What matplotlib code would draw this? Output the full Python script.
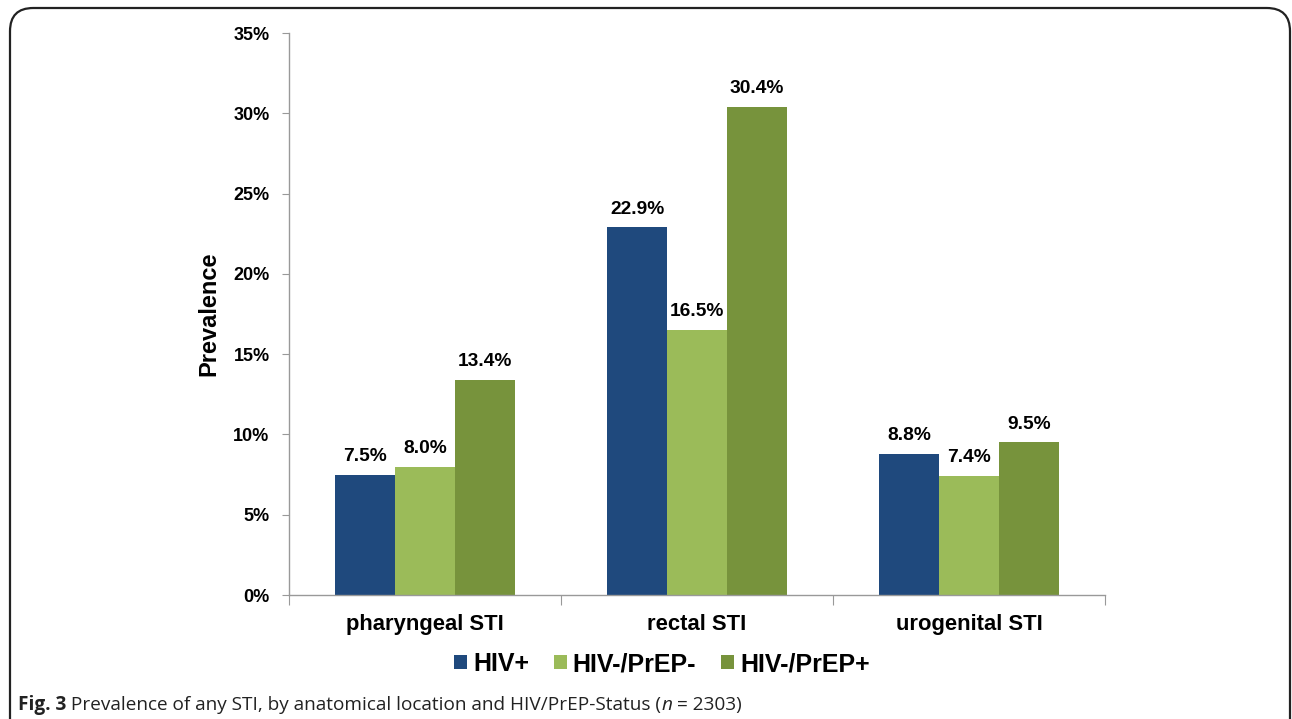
import matplotlib
matplotlib.use("Agg")
import matplotlib.pyplot as plt
from matplotlib.patches import FancyBboxPatch
import numpy as np

categories = ["pharyngeal STI", "rectal STI", "urogenital STI"]
groups = ["HIV+", "HIV-/PrEP-", "HIV-/PrEP+"]
hiv_pos = [7.5, 22.9, 8.8]
prep_neg = [8.0, 16.5, 7.4]
prep_pos = [13.4, 30.4, 9.5]
y_ticks = [0, 5, 10, 15, 20, 25, 30, 35]

colors = ["#1F497D", "#9BBB59", "#77933C"]

plt.rcParams["font.family"] = ["Liberation Sans", "DejaVu Sans"]

W, H = 1292, 719
fig = plt.figure(figsize=(W / 100, H / 100), dpi=100)

# rounded frame round the whole figure
frame = FancyBboxPatch((10 / W, -30 / H), (1290 - 10) / W, (H - 8 + 30) / H,
                       boxstyle="round,pad=0,rounding_size=0.018",
                       transform=fig.transFigure, fill=False,
                       edgecolor="#222222", linewidth=1.6, mutation_aspect=W / H)
fig.patches.append(frame)

ax = fig.add_axes([289 / W, 1 - 595 / H, (1105 - 289) / W, (595 - 33) / H])

x = np.arange(len(categories)) + 0.5
bw = 0.22
series = [hiv_pos, prep_neg, prep_pos]
for i, (vals, name) in enumerate(zip(series, groups)):
    bars = ax.bar(x + (i - 1) * bw, vals, width=bw, color=colors[i], label=name)
    for b, v in zip(bars, vals):
        ax.annotate(f"{v:.1f}%", (b.get_x() + b.get_width() / 2, v),
                    xytext=(0, 7), textcoords="offset points",
                    ha="center", va="bottom", fontsize=13.8, fontweight="bold")

ax.set_xlim(0, 3)
ax.set_ylim(0, 35)
ax.set_yticks(y_ticks)
ax.set_yticklabels([f"{t}%" for t in y_ticks], fontsize=13, fontweight="bold")
ax.set_xticks([0, 1, 2, 3])
ax.set_xticklabels([])
ax.set_xticks(x, minor=True)
ax.set_xticklabels(categories, minor=True, fontsize=15.8, fontweight="bold")
ax.tick_params(axis="x", which="minor", length=0, pad=14)
ax.tick_params(axis="x", which="major", length=7, color="#999999", direction="out")
ax.tick_params(axis="y", length=5, color="#999999", pad=9)

for s in ["top", "right"]:
    ax.spines[s].set_visible(False)
for s in ["left", "bottom"]:
    ax.spines[s].set_color("#999999")
    ax.spines[s].set_linewidth(1.0)

ax.set_ylabel("Prevalence", fontsize=17, fontweight="bold", labelpad=9)

ax.legend(loc="center", bbox_to_anchor=(662 / W, 1 - 664 / H),
          bbox_transform=fig.transFigure, ncol=3, frameon=False,
          handlelength=0.5, handleheight=0.5, handletextpad=0.25,
          columnspacing=1.0, prop={"size": 18, "weight": "bold"})

# caption, built from pieces
fig.canvas.draw()
r = fig.canvas.get_renderer()
cap_y = 1 - 710 / H
xpos = 18 / W
pieces = [("Fig. 3", "bold", "normal"),
          (" Prevalence of any STI, by anatomical location and HIV/PrEP-Status (", "normal", "normal"),
          ("n", "normal", "italic"),
          (" = 2303)", "normal", "normal")]
for txt, wt, st in pieces:
    t = fig.text(xpos, cap_y, txt, fontsize=13.7, fontweight=wt, fontstyle=st,
                 family=["Open Sans", "DejaVu Sans"], ha="left", va="baseline",
                 color="#222222")
    bb = t.get_window_extent(renderer=r)
    xpos += bb.width / W

fig.savefig("out.png", dpi=100)
